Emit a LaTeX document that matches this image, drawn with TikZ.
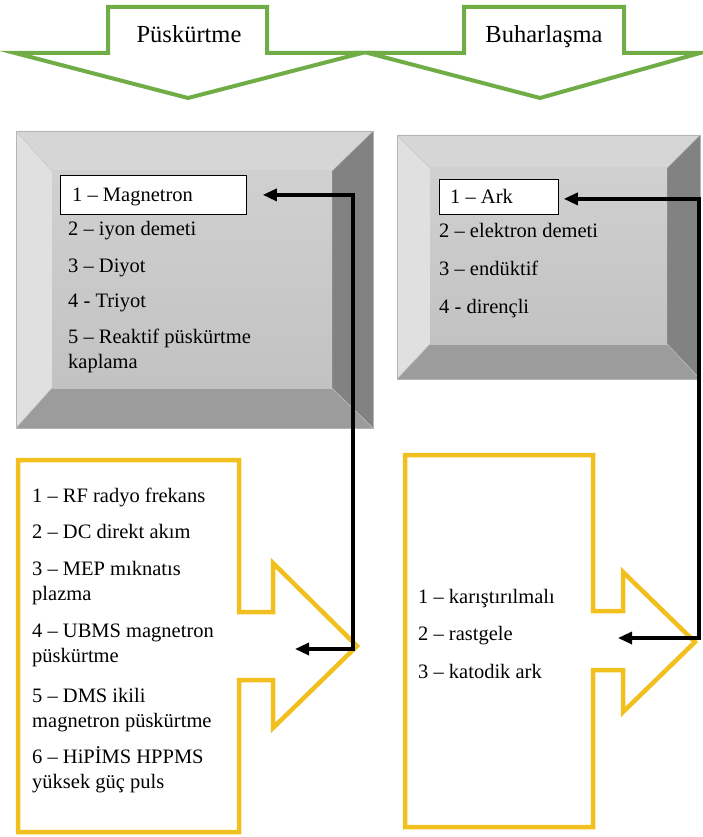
\documentclass[tikz,border=0pt]{standalone}
\usepackage{fontspec}
\setmainfont{Liberation Serif}
\usetikzlibrary{arrows.meta,calc}
\definecolor{grn}{HTML}{70AD47}
\definecolor{gold}{HTML}{F2C01E}
\definecolor{bvtop}{HTML}{D6D6D6}
\definecolor{bvleft}{HTML}{E0E0E0}
\definecolor{bvbot}{HTML}{9C9C9C}
\definecolor{bvright}{HTML}{828282}
\definecolor{bvface}{HTML}{C8C8C8}
\definecolor{bvedge}{HTML}{B4B4B4}
\begin{document}
\begin{tikzpicture}[x=1pt,y=-1pt,
  greenarrow/.style={draw=grn, line width=4pt, fill=white, line join=miter},
  goldarrow/.style={draw=gold, line width=4.5pt, fill=white, line join=miter},
  title/.style={font=\fontsize{24.5}{28}\selectfont, inner sep=0pt, anchor=base},
  item/.style={font=\fontsize{20.5}{24.5}\selectfont, inner sep=0pt, anchor=base west, align=left},
  selbox/.style={draw=black, line width=0.8pt, fill=white, anchor=north west, inner xsep=0pt, inner ysep=0pt},
  conn/.style={line width=3.2pt, {Triangle[length=14pt,width=12pt]}-{Triangle[length=14pt,width=12pt]}}
]
\useasboundingbox (0,0) rectangle (702,837);

% top green arrows
\draw[greenarrow] (108,7) -- (267,7) -- (267,53) -- (362,53) -- (188,98) -- (15,53) -- (108,53) -- cycle;
\node[title] (t1) at (189,43) {Püskürtme};
\draw[greenarrow] (464,7) -- (624,7) -- (624,53) -- (700,53) -- (540,98) -- (368,53) -- (464,53) -- cycle;
\node[title] (t2) at (544,43) {Buharlaşma};

% left bevel box
\fill[bvtop] (16,131) -- (373,131) -- (332,171) -- (52,171) -- cycle;
\fill[bvleft] (16,131) -- (52,171) -- (52,388) -- (16,428) -- cycle;
\fill[bvbot] (16,428) -- (52,388) -- (332,388) -- (373,428) -- cycle;
\fill[bvright] (373,131) -- (373,428) -- (332,388) -- (332,171) -- cycle;
\shade[top color=bvface!85!white, bottom color=bvface!97!black] (52,171) rectangle (332,388);
\draw[bvedge, line width=0.6pt] (16,131) rectangle (373,428);
\draw[bvedge!80!white, line width=0.5pt] (16,131) -- (52,171) (373,131) -- (332,171) (16,428) -- (52,388) (373,428) -- (332,388);

% right bevel box
\fill[bvtop] (397,135) -- (700,135) -- (667,168) -- (430,168) -- cycle;
\fill[bvleft] (397,135) -- (430,168) -- (430,344) -- (397,379) -- cycle;
\fill[bvbot] (397,379) -- (430,344) -- (667,344) -- (700,379) -- cycle;
\fill[bvright] (700,135) -- (700,379) -- (667,344) -- (667,168) -- cycle;
\shade[top color=bvface!85!white, bottom color=bvface!97!black] (430,168) rectangle (667,344);
\draw[bvedge, line width=0.6pt] (397,135) rectangle (700,379);
\draw[bvedge!80!white, line width=0.5pt] (397,135) -- (430,168) (700,135) -- (667,168) (397,379) -- (430,344) (700,379) -- (667,344);

% left list
\node[selbox, minimum width=186pt, minimum height=39pt] (m1) at (60,175) {};
\node[item] (m1t) at (72,201) {1 – Magnetron};
\node[item] (m2) at (68,235) {2 – iyon demeti};
\node[item] (m3) at (68,272) {3 – Diyot};
\node[item] (m4) at (68,307) {4 - Triyot};
\node[item] (m5) at (68,368) {5 – Reaktif püskürtme\\kaplama};

% right list
\node[selbox, minimum width=119pt, minimum height=35pt] (a1) at (439,179) {};
\node[item] (a1t) at (450,203) {1 – Ark};
\node[item] (a2) at (439,237) {2 – elektron demeti};
\node[item] (a3) at (439,275) {3 – endüktif};
\node[item] (a4) at (439,313) {4 - dirençli};

% gold arrow boxes
\draw[goldarrow] (18,460) -- (239,460) -- (239,612) -- (273,612) -- (273,563) -- (357,646) -- (273,728) -- (273,680) -- (239,680) -- (239,832) -- (18,832) -- cycle;
\draw[goldarrow] (405,455) -- (593,455) -- (593,611) -- (623,611) -- (623,572) -- (695,642) -- (623,712) -- (623,670) -- (593,670) -- (593,827) -- (405,827) -- cycle;

\node[item] (r1) at (32,502) {1 – RF radyo frekans};
\node[item] (r2) at (32,538) {2 – DC direkt akım};
\node[item] (r3) at (32,600) {3 – MEP mıknatıs\\plazma};
\node[item] (r4) at (32,662) {4 – UBMS magnetron\\püskürtme};
\node[item] (r5) at (32,727) {5 – DMS ikili\\magnetron püskürtme};
\node[item] (r6) at (32,788) {6 – HiPİMS HPPMS\\yüksek güç puls};

\node[item] (k1) at (418,603) {1 – karıştırılmalı};
\node[item] (k2) at (418,640) {2 – rastgele};
\node[item] (k3) at (418,678) {3 – katodik ark};

% connectors
\coordinate (lc) at (353,649);
\coordinate (lend) at (295,649);
\draw[conn] (lend) -- (lc) |- ($(m1.east)+(16,0)$);
\coordinate (rc) at (699,638);
\coordinate (rend) at (618,638);
\draw[conn] (rend) -- (rc) |- ($(a1.east)+(5,2)$);
\end{tikzpicture}
\end{document}
